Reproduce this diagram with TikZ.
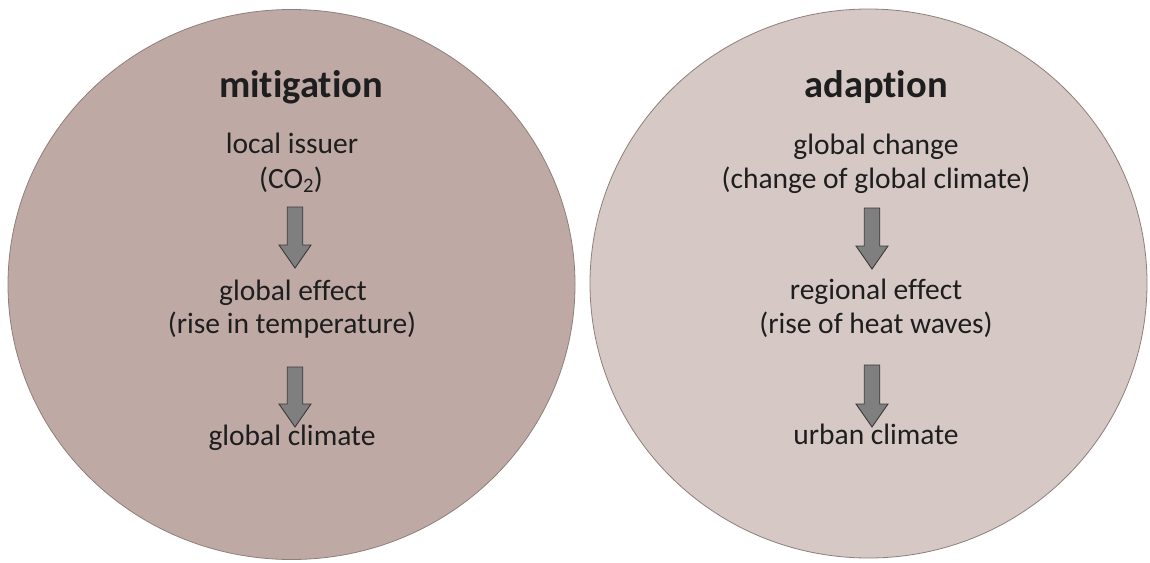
\documentclass[tikz,border=0pt]{standalone}
\usepackage{fontspec}
\setmainfont{Carlito}[Ligatures={NoCommon}]
\usetikzlibrary{calc}
\definecolor{mitfill}{HTML}{BFA9A5}
\definecolor{adafill}{HTML}{D6C9C5}
\definecolor{rimcol}{HTML}{8E7F7B}
\definecolor{arrfill}{HTML}{7F7F7F}
\definecolor{arrline}{HTML}{3A3A3A}
\definecolor{txtcol}{HTML}{1E1E1E}
\begin{document}
\begin{tikzpicture}[x=1pt,y=-1pt,
  disc/.style={draw=rimcol,line width=0.8pt},
  heading/.style={anchor=base,text=txtcol,font=\fontsize{38.5}{44}\selectfont\bfseries,inner sep=0pt},
  body/.style={anchor=base,text=txtcol,font=\fontsize{29.5}{34}\selectfont,inner sep=0pt},
  blockarrow/.style={fill=arrfill,draw=arrline,line width=0.9pt,line join=miter}
]
\path[use as bounding box,fill=white] (0,0) rectangle (1150,562);

% the two discs
\path[disc,fill=mitfill] (291.5,284.5) ellipse [x radius=283.5,y radius=275];
\path[disc,fill=adafill] (868.5,283.5) ellipse [x radius=278.5,y radius=274.5];

% block arrow from (#1) down to (#2): shaft 15.5 wide, head 32 wide and 23 long
\newcommand\blockdown[2]{%
  \draw[blockarrow]
    ($(#1)+(-7.75,0)$) -- ($(#1)+(7.75,0)$) -- ($(#2)+(7.75,-23)$) -- ($(#2)+(16,-23)$)
    -- (#2) -- ($(#2)+(-16,-23)$) -- ($(#2)+(-7.75,-23)$) -- cycle;}

% left disc: mitigation
\node[heading] (mit) at (301,97.5) {mitigation};
\node[body] (mitA) at (292,153) {local issuer};
\node[body] (mitB) at (291,188) {(CO\textsubscript{2})};
\node[body] (mitC) at (293,300) {global effect};
\node[body] (mitD) at (292,333.5) {(rise in temperature)};
\node[body] (mitE) at (292,445) {global climate};
\coordinate (m1s) at (295,207);
\coordinate (m1e) at (295,268);
\coordinate (m2s) at (295,367);
\coordinate (m2e) at (295,427);
\blockdown{m1s}{m1e}
\blockdown{m2s}{m2e}

% right disc: adaption
\node[heading] (ada) at (876,97.5) {adaption};
\node[body] (adaA) at (876,154) {global change};
\node[body] (adaB) at (876,188) {(change of global climate)};
\node[body] (adaC) at (876,299) {regional effect};
\node[body] (adaD) at (876,333) {(rise of heat waves)};
\node[body] (adaE) at (876,444) {urban climate};
\coordinate (a1s) at (872,208);
\coordinate (a1e) at (872,269);
\coordinate (a2s) at (872,365);
\coordinate (a2e) at (872,427);
\blockdown{a1s}{a1e}
\blockdown{a2s}{a2e}
\end{tikzpicture}
\end{document}
